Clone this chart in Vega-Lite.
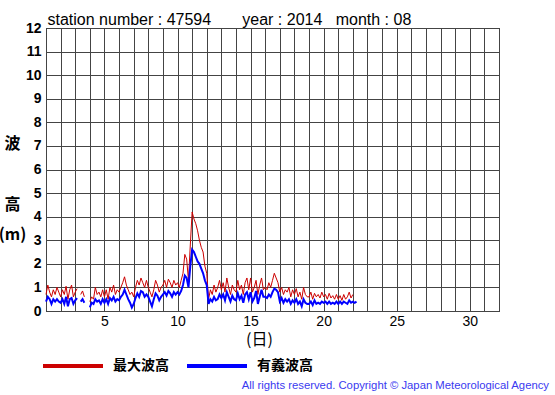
{
  "$schema": "https://vega.github.io/schema/vega-lite/v6.json",
  "width": 453,
  "height": 283,
  "autosize": {"type": "none"},
  "padding": {"left": 46, "top": 28, "right": 56, "bottom": 84},
  "background": "white",
  "title": {
    "text": "All rights reserved. Copyright © Japan Meteorological Agency",
    "orient": "bottom",
    "anchor": "end",
    "frame": "group",
    "font": "Liberation Sans",
    "fontSize": 11.3,
    "fontWeight": "normal",
    "color": "#3a3af0",
    "offset": 6,
    "dx": 50
  },
  "config": {
    "font": "Liberation Sans",
    "view": {"stroke": "#000", "strokeWidth": 1},
    "legend": {
      "orient": "none",
      "legendX": -5,
      "legendY": 306,
      "direction": "horizontal",
      "title": null,
      "padding": 0,
      "symbolType": "stroke",
      "symbolSize": 3600,
      "symbolStrokeWidth": 4,
      "labelFont": "Noto Sans CJK JP",
      "labelFontSize": 14,
      "labelFontWeight": "bold",
      "labelColor": "#000",
      "labelOffset": 8,
      "columnPadding": 10
    }
  },
  "data": {
    "values": [
      {"t": 1.000, "max": 0.7, "sig": 0.4}, {"t": 1.125, "max": 1.1, "sig": 0.6}, {"t": 1.250, "max": 0.8, "sig": 0.5}, {"t": 1.375, "max": 0.6, "sig": 0.3},
      {"t": 1.500, "max": 0.9, "sig": 0.5}, {"t": 1.625, "max": 0.7, "sig": 0.4}, {"t": 1.750, "max": 1.0, "sig": 0.5}, {"t": 1.875, "max": 0.8, "sig": 0.4},
      {"t": 2.000, "max": 0.6, "sig": 0.35}, {"t": 2.125, "max": 0.9, "sig": 0.5}, {"t": 2.250, "max": 0.7, "sig": 0.3}, {"t": 2.375, "max": 1.05, "sig": 0.6},
      {"t": 2.500, "max": 0.5, "sig": 0.2}, {"t": 2.625, "max": 0.9, "sig": 0.5}, {"t": 2.750, "max": 1.1, "sig": 0.55}, {"t": 2.875, "max": 0.6, "sig": 0.3},
      {"t": 3.000, "max": 0.8, "sig": 0.45}, {"t": 3.125, "max": 0.95, "sig": 0.55}, {"t": 3.250, "max": null, "sig": null}, {"t": 3.375, "max": 0.7, "sig": 0.4},
      {"t": 3.500, "max": 0.85, "sig": 0.5}, {"t": 3.625, "max": 0.6, "sig": 0.35}, {"t": 3.750, "max": null, "sig": null}, {"t": 3.875, "max": null, "sig": null},
      {"t": 4.000, "max": 0.4, "sig": 0.15}, {"t": 4.125, "max": 0.6, "sig": 0.35}, {"t": 4.250, "max": 0.5, "sig": 0.3}, {"t": 4.375, "max": 1.0, "sig": 0.5},
      {"t": 4.500, "max": 0.7, "sig": 0.4}, {"t": 4.625, "max": 0.8, "sig": 0.45}, {"t": 4.750, "max": 0.6, "sig": 0.3}, {"t": 4.875, "max": 0.9, "sig": 0.5},
      {"t": 5.000, "max": 0.6, "sig": 0.35}, {"t": 5.125, "max": 0.9, "sig": 0.5}, {"t": 5.250, "max": 0.5, "sig": 0.3}, {"t": 5.375, "max": 1.0, "sig": 0.55},
      {"t": 5.500, "max": 0.8, "sig": 0.45}, {"t": 5.625, "max": 1.1, "sig": 0.6}, {"t": 5.750, "max": 0.7, "sig": 0.4}, {"t": 5.875, "max": 0.9, "sig": 0.5},
      {"t": 6.000, "max": 0.8, "sig": 0.45}, {"t": 6.125, "max": 1.0, "sig": 0.6}, {"t": 6.250, "max": 1.2, "sig": 0.7}, {"t": 6.375, "max": 1.45, "sig": 0.9},
      {"t": 6.500, "max": 1.1, "sig": 0.7}, {"t": 6.625, "max": 0.9, "sig": 0.5}, {"t": 6.750, "max": 0.7, "sig": 0.35}, {"t": 6.875, "max": 0.8, "sig": 0.15},
      {"t": 7.000, "max": 0.6, "sig": 0.3}, {"t": 7.125, "max": 1.0, "sig": 0.55}, {"t": 7.250, "max": 1.3, "sig": 0.75}, {"t": 7.375, "max": 1.1, "sig": 0.6},
      {"t": 7.500, "max": 1.4, "sig": 0.85}, {"t": 7.625, "max": 1.2, "sig": 0.8}, {"t": 7.750, "max": 1.0, "sig": 0.6}, {"t": 7.875, "max": 1.3, "sig": 0.7},
      {"t": 8.000, "max": 1.0, "sig": 0.6}, {"t": 8.125, "max": 0.8, "sig": 0.4}, {"t": 8.250, "max": 0.6, "sig": 0.2}, {"t": 8.375, "max": 0.9, "sig": 0.5},
      {"t": 8.500, "max": 1.3, "sig": 0.75}, {"t": 8.625, "max": 1.1, "sig": 0.65}, {"t": 8.750, "max": 0.8, "sig": 0.45}, {"t": 8.875, "max": 1.0, "sig": 0.6},
      {"t": 9.000, "max": 1.1, "sig": 0.7}, {"t": 9.125, "max": 1.3, "sig": 0.8}, {"t": 9.250, "max": 1.0, "sig": 0.65}, {"t": 9.375, "max": 1.35, "sig": 0.85},
      {"t": 9.500, "max": 1.2, "sig": 0.75}, {"t": 9.625, "max": 1.0, "sig": 0.6}, {"t": 9.750, "max": 1.3, "sig": 0.8}, {"t": 9.875, "max": 1.1, "sig": 0.7},
      {"t": 10.000, "max": 1.2, "sig": 0.8}, {"t": 10.125, "max": 1.0, "sig": 0.7}, {"t": 10.250, "max": 1.3, "sig": 0.85}, {"t": 10.375, "max": 1.6, "sig": 1.1},
      {"t": 10.500, "max": 2.4, "sig": 1.5}, {"t": 10.625, "max": 2.2, "sig": 1.4}, {"t": 10.750, "max": 1.3, "sig": 1.0}, {"t": 10.875, "max": 2.8, "sig": 1.9},
      {"t": 11.000, "max": 4.2, "sig": 2.6}, {"t": 11.125, "max": 3.9, "sig": 2.5}, {"t": 11.250, "max": 3.7, "sig": 2.3}, {"t": 11.375, "max": 3.4, "sig": 2.1},
      {"t": 11.500, "max": 3.0, "sig": 2.0}, {"t": 11.625, "max": 2.7, "sig": 1.8}, {"t": 11.750, "max": 2.5, "sig": 1.6}, {"t": 11.875, "max": 1.9, "sig": 1.3},
      {"t": 12.000, "max": 1.6, "sig": 1.1}, {"t": 12.125, "max": 0.5, "sig": 0.3}, {"t": 12.250, "max": 0.9, "sig": 0.5}, {"t": 12.375, "max": 0.7, "sig": 0.4},
      {"t": 12.500, "max": 1.1, "sig": 0.6}, {"t": 12.625, "max": 0.8, "sig": 0.45}, {"t": 12.750, "max": 1.0, "sig": 0.5}, {"t": 12.875, "max": 1.3, "sig": 0.7},
      {"t": 13.000, "max": 0.9, "sig": 0.55}, {"t": 13.125, "max": 1.2, "sig": 0.7}, {"t": 13.250, "max": 0.8, "sig": 0.45}, {"t": 13.375, "max": 1.4, "sig": 0.8},
      {"t": 13.500, "max": 1.0, "sig": 0.6}, {"t": 13.625, "max": 0.7, "sig": 0.4}, {"t": 13.750, "max": 1.1, "sig": 0.65}, {"t": 13.875, "max": 0.9, "sig": 0.5},
      {"t": 14.000, "max": 0.8, "sig": 0.45}, {"t": 14.125, "max": 1.3, "sig": 0.75}, {"t": 14.250, "max": 0.9, "sig": 0.5}, {"t": 14.375, "max": 1.1, "sig": 0.65},
      {"t": 14.500, "max": 0.7, "sig": 0.35}, {"t": 14.625, "max": 1.2, "sig": 0.7}, {"t": 14.750, "max": 1.4, "sig": 0.8}, {"t": 14.875, "max": 0.9, "sig": 0.5},
      {"t": 15.000, "max": 1.4, "sig": 0.8}, {"t": 15.125, "max": 0.8, "sig": 0.4}, {"t": 15.250, "max": 1.0, "sig": 0.55}, {"t": 15.375, "max": 1.3, "sig": 0.85},
      {"t": 15.500, "max": 0.7, "sig": 0.3}, {"t": 15.625, "max": 1.1, "sig": 0.6}, {"t": 15.750, "max": 1.4, "sig": 0.9}, {"t": 15.875, "max": 0.9, "sig": 0.6},
      {"t": 16.000, "max": 1.0, "sig": 0.6}, {"t": 16.125, "max": 0.9, "sig": 0.55}, {"t": 16.250, "max": 1.2, "sig": 0.7}, {"t": 16.375, "max": 1.0, "sig": 0.6},
      {"t": 16.500, "max": 1.3, "sig": 0.8}, {"t": 16.625, "max": 1.6, "sig": 0.95}, {"t": 16.750, "max": 1.4, "sig": 0.9}, {"t": 16.875, "max": 1.2, "sig": 0.8},
      {"t": 17.000, "max": 0.8, "sig": 0.4}, {"t": 17.125, "max": 1.0, "sig": 0.55}, {"t": 17.250, "max": 0.7, "sig": 0.35}, {"t": 17.375, "max": 0.9, "sig": 0.5},
      {"t": 17.500, "max": 0.8, "sig": 0.4}, {"t": 17.625, "max": 1.0, "sig": 0.5}, {"t": 17.750, "max": 0.6, "sig": 0.3}, {"t": 17.875, "max": 0.9, "sig": 0.45},
      {"t": 18.000, "max": 0.7, "sig": 0.35}, {"t": 18.125, "max": 0.95, "sig": 0.5}, {"t": 18.250, "max": 0.6, "sig": 0.3}, {"t": 18.375, "max": 0.8, "sig": 0.4},
      {"t": 18.500, "max": 0.5, "sig": 0.2}, {"t": 18.625, "max": 1.0, "sig": 0.5}, {"t": 18.750, "max": 0.7, "sig": 0.35}, {"t": 18.875, "max": 0.6, "sig": 0.3},
      {"t": 19.000, "max": 0.6, "sig": 0.3}, {"t": 19.125, "max": 0.8, "sig": 0.4}, {"t": 19.250, "max": 0.5, "sig": 0.25}, {"t": 19.375, "max": 0.75, "sig": 0.45},
      {"t": 19.500, "max": 0.6, "sig": 0.3}, {"t": 19.625, "max": 0.7, "sig": 0.35}, {"t": 19.750, "max": 0.55, "sig": 0.3}, {"t": 19.875, "max": 0.8, "sig": 0.4},
      {"t": 20.000, "max": 0.6, "sig": 0.35}, {"t": 20.125, "max": 0.7, "sig": 0.4}, {"t": 20.250, "max": 0.5, "sig": 0.3}, {"t": 20.375, "max": 0.75, "sig": 0.4},
      {"t": 20.500, "max": 0.55, "sig": 0.3}, {"t": 20.625, "max": 0.65, "sig": 0.35}, {"t": 20.750, "max": 0.5, "sig": 0.3}, {"t": 20.875, "max": 0.7, "sig": 0.4},
      {"t": 21.000, "max": 0.5, "sig": 0.3}, {"t": 21.125, "max": 0.65, "sig": 0.4}, {"t": 21.250, "max": 0.45, "sig": 0.3}, {"t": 21.375, "max": 0.7, "sig": 0.4},
      {"t": 21.500, "max": 0.5, "sig": 0.35}, {"t": 21.625, "max": 0.6, "sig": 0.3}, {"t": 21.750, "max": 0.8, "sig": 0.45}, {"t": 21.875, "max": 0.55, "sig": 0.35},
      {"t": 22.000, "max": 0.7, "sig": 0.4}, {"t": 22.125, "max": null, "sig": 0.35}, {"t": 22.250, "max": null, "sig": 0.4}
    ]
  },
  "layer": [
    {
      "mark": {"type": "line", "strokeWidth": 1, "invalid": "break-paths-filter-domains"},
      "encoding": {
        "x": {
          "field": "t", "type": "quantitative",
          "scale": {"domain": [1, 32], "nice": false, "zero": false},
          "axis": {
            "values": [1,2,3,4,5,6,7,8,9,10,11,12,13,14,15,16,17,18,19,20,21,22,23,24,25,26,27,28,29,30,31,32],
            "labelExpr": "datum.value % 5 === 0 ? datum.label : ''",
            "grid": true, "gridColor": "#444", "gridWidth": 1, "gridOpacity": 1,
            "ticks": false, "domain": false,
            "labelFont": "Liberation Sans", "labelFontSize": 14, "labelColor": "#000", "labelPadding": 3,
            "labelOverlap": false,
            "title": "(日)", "titleFont": "Noto Sans CJK JP", "titleFontSize": 16, "titleFontWeight": "normal",
            "titleColor": "#000", "titleX": 213, "titleY": 20, "titleAlign": "center", "titleBaseline": "top", "titleAnchor": null
          }
        },
        "y": {
          "field": "max", "type": "quantitative",
          "scale": {"domain": [0, 12], "nice": false},
          "axis": {
            "values": [0,1,2,3,4,5,6,7,8,9,10,11,12],
            "grid": true, "gridColor": "#444", "gridWidth": 1, "gridOpacity": 1,
            "ticks": false, "domain": false,
            "labelFont": "Liberation Sans", "labelFontSize": 14, "labelFontWeight": "bold", "labelColor": "#000", "labelPadding": 5,
            "title": ["波", "\u200b", "高", "(m)"], "titleFont": "Noto Sans CJK JP", "titleFontSize": 16, "titleFontWeight": "bold",
            "titleColor": "#000", "titleAngle": 0, "titleLineHeight": 30.5, "titleX": -34, "titleY": 107,
            "titleAlign": "center", "titleBaseline": "top"
          }
        },
        "color": {
          "datum": "最大波高",
          "scale": {"domain": ["最大波高", "有義波高"], "range": ["#cc0000", "#0000ff"]}
        }
      }
    },
    {
      "mark": {"type": "line", "strokeWidth": 2, "invalid": "break-paths-filter-domains"},
      "encoding": {
        "x": {
          "field": "t", "type": "quantitative",
          "scale": {"domain": [1, 32], "nice": false, "zero": false},
          "axis": {
            "orient": "top", "labels": false, "ticks": false, "domain": false, "grid": false,
            "title": "station number : 47594\u00a0\u00a0\u00a0\u00a0\u00a0\u00a0\u00a0year : 2014\u00a0\u00a0\u00a0month : 08",
            "titleFont": "Liberation Sans", "titleFontSize": 16, "titleFontWeight": "normal", "titleColor": "#000",
            "titleX": 1, "titleY": -4, "titleAlign": "left", "titleBaseline": "alphabetic", "titleAnchor": null
          }
        },
        "y": {
          "field": "sig", "type": "quantitative",
          "scale": {"domain": [0, 12], "nice": false},
          "axis": {
            "orient": "left", "labels": false, "ticks": false, "domain": false, "grid": false, "title": null
          }
        },
        "color": {"datum": "有義波高"}
      }
    }
  ],
  "resolve": {"axis": {"x": "independent", "y": "independent"}}
}
